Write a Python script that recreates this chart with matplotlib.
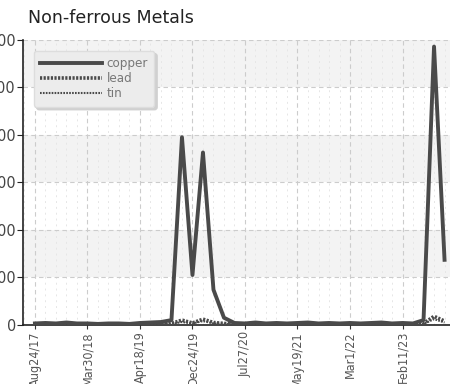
import matplotlib
matplotlib.use("Agg")
import matplotlib.pyplot as plt
from matplotlib.ticker import MultipleLocator

# monthly-ish readings, ticks labelled every 5 samples
tick_labels = ["Aug24/17", "Mar30/18", "Apr18/19", "Dec24/19",
               "Jul27/20", "May19/21", "Mar1/22", "Feb11/23"]

copper = [3, 4, 3, 5, 3, 3, 2, 3, 3, 2, 4, 5, 6,
          10, 395, 105, 363, 74, 15,
          4, 3, 5, 3, 4, 3, 4, 5, 3, 4, 3, 4, 3, 4, 5, 3, 4, 3,
          10, 586, 137]
lead = [2, 2, 2, 3, 2, 2, 2, 2, 2, 2, 2, 3, 3,
        3, 10, 4, 12, 5, 3,
        2, 2, 3, 2, 2, 2, 2, 3, 2, 2, 2, 2, 2, 2, 3, 2, 2, 2,
        3, 18, 8]
tin = [1, 1, 1, 1, 1, 1, 1, 1, 1, 1, 1, 1, 1,
       2, 6, 3, 8, 3, 2,
       1, 1, 1, 1, 1, 1, 1, 1, 1, 1, 1, 1, 1, 1, 1, 1, 1, 1,
       2, 12, 5]

narrow = dict(family="DejaVu Sans", stretch="condensed")
line_col = "#4a4a4a"

fig = plt.figure(figsize=(4.5, 3.84), dpi=100)
ax = fig.add_axes([0.051, 0.154, 0.949, 0.742])

x = list(range(len(copper)))
ax.plot(x, copper, color=line_col, lw=2.8, label="copper", zorder=4)
ax.plot(x, lead, color=line_col, lw=2.6, ls=(0, (0.6, 0.4)), label="lead", zorder=3)
ax.plot(x, tin, color=line_col, lw=1.5, ls=(0, (0.8, 0.6)), label="tin", zorder=3)

ax.set_xlim(-1.14, 39.52)
ax.set_ylim(0, 600)

# alternating horizontal bands
for lo in (100, 300, 500):
    ax.axhspan(lo, lo + 100, color="#f3f3f3", zorder=0, lw=0)

ax.set_xticks(range(0, 40, 5))
ax.set_xticklabels(tick_labels, rotation=90, fontsize=9, color="#555555", **narrow)
ax.xaxis.set_minor_locator(MultipleLocator(1))
ax.set_yticks(range(0, 601, 100))
ax.set_yticklabels([str(v) for v in range(0, 601, 100)], fontsize=11.5,
                   color="#444444", **narrow)

ax.grid(which="major", color="#cccccc", ls=(0, (4, 3)), lw=0.8, zorder=1)
ax.grid(which="minor", axis="x", color="#e6e6e6", ls=(0, (2, 4)), lw=0.7, zorder=1)
ax.tick_params(axis="x", which="major", length=3, color="#333333", pad=1.5)
ax.tick_params(axis="x", which="minor", length=0)
ax.tick_params(axis="y", length=4, color="#222222", pad=1)

for side in ("top", "right"):
    ax.spines[side].set_visible(False)
ax.spines["left"].set_color("#222222")
ax.spines["bottom"].set_color("#222222")
ax.spines["left"].set_linewidth(1.2)
ax.spines["bottom"].set_linewidth(1.2)

leg = ax.legend(loc="upper left", bbox_to_anchor=(0.01, 0.985), handlelength=4.7,
                handletextpad=0.3, labelspacing=0.15, borderpad=0.5, fancybox=True,
                shadow={"color": "#d0d0d0", "alpha": 1}, framealpha=1,
                prop={"size": 9.5, **narrow})
leg.get_frame().set_facecolor("#ececec")
leg.get_frame().set_edgecolor("#dddddd")
for t in leg.get_texts():
    t.set_color("#777777")

fig.text(0.062, 0.953, "Non-ferrous Metals", fontsize=12.5, color="#222222", va="center")

fig.savefig("out.png", dpi=100)
